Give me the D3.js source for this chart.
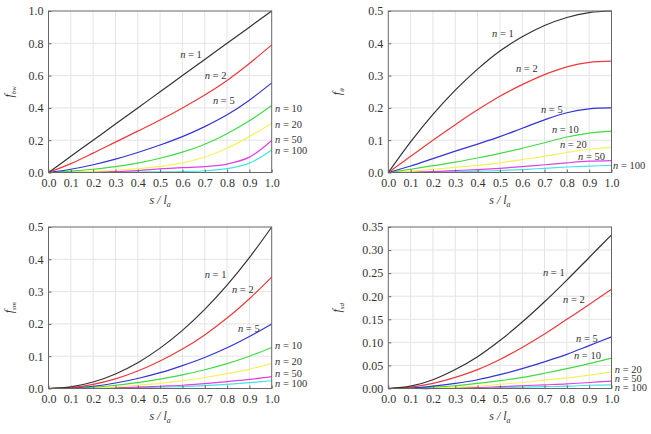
<!DOCTYPE html>
<html>
<head>
<meta charset="utf-8">
<script src="https://cdn.jsdelivr.net/npm/d3@7"></script>
<style>
  body { margin: 0; background: #fff; }
  svg text { font-family: "Liberation Serif", "Times New Roman", Times, serif; fill: #333; }
  .grid line { stroke: #e4e4e4; stroke-width: 1; }
  .frame { fill: none; stroke: #666; stroke-width: 1; }
  .curve { fill: none; stroke-width: 1.2; }
</style>
</head>
<body>
<script>
"use strict";

// shared x values (s / l_a)
const sValues = [0, 0.1, 0.2, 0.3, 0.4, 0.5, 0.6, 0.7, 0.8, 0.9, 1.0];
const nNames = ["1", "2", "5", "10", "20", "50", "100"];
const nColors = ["#333333", "#ec3a3a", "#3434d4", "#40dc40", "#f4f25c", "#e040e0", "#44e4e4"];

// f_bw, one row per n
const fBw = [
  [0, 0.1, 0.2, 0.3, 0.4, 0.5, 0.6, 0.7, 0.8, 0.9, 1.0],
  [0, 0.055, 0.12, 0.188, 0.256, 0.325, 0.40, 0.48, 0.57, 0.675, 0.79],
  [0, 0.02, 0.048, 0.083, 0.124, 0.17, 0.222, 0.284, 0.357, 0.448, 0.555],
  [0, 0.008, 0.02, 0.036, 0.058, 0.088, 0.126, 0.175, 0.24, 0.32, 0.415],
  [0, 0.002, 0.007, 0.014, 0.024, 0.038, 0.06, 0.096, 0.15, 0.222, 0.305],
  [0, 0.001, 0.003, 0.006, 0.012, 0.022, 0.03, 0.036, 0.052, 0.095, 0.198],
  [0, 0, 0.001, 0.002, 0.003, 0.004, 0.006, 0.011, 0.024, 0.058, 0.14]
];

// f_theta
const fTheta = [
  [0, 0.095, 0.18, 0.255, 0.32, 0.376, 0.42, 0.455, 0.48, 0.495, 0.5],
  [0, 0.05, 0.10, 0.148, 0.194, 0.236, 0.272, 0.303, 0.327, 0.341, 0.345],
  [0, 0.02, 0.043, 0.066, 0.088, 0.111, 0.137, 0.163, 0.185, 0.197, 0.20],
  [0, 0.01, 0.021, 0.032, 0.045, 0.059, 0.075, 0.092, 0.11, 0.122, 0.128],
  [0, 0.004, 0.01, 0.016, 0.022, 0.03, 0.04, 0.05, 0.062, 0.072, 0.078],
  [0, 0.001, 0.003, 0.006, 0.009, 0.013, 0.018, 0.024, 0.03, 0.035, 0.037],
  [0, 0, 0.001, 0.002, 0.004, 0.006, 0.009, 0.013, 0.017, 0.02, 0.022]
];

// f_sm
const fSm = [
  [0, 0.005, 0.02, 0.045, 0.08, 0.125, 0.18, 0.245, 0.32, 0.405, 0.5],
  [0, 0.003, 0.013, 0.03, 0.054, 0.085, 0.122, 0.166, 0.218, 0.278, 0.345],
  [0, 0.002, 0.007, 0.017, 0.031, 0.049, 0.071, 0.096, 0.126, 0.161, 0.2],
  [0, 0.001, 0.004, 0.01, 0.018, 0.029, 0.042, 0.058, 0.077, 0.1, 0.127],
  [0, 0, 0.002, 0.005, 0.01, 0.016, 0.024, 0.034, 0.046, 0.06, 0.078],
  [0, 0, 0.001, 0.002, 0.004, 0.007, 0.01, 0.015, 0.021, 0.028, 0.037],
  [0, 0, 0, 0.001, 0.002, 0.004, 0.006, 0.009, 0.013, 0.018, 0.024]
];

// f_sd
const fSd = [
  [0, 0.005, 0.019, 0.041, 0.069, 0.104, 0.144, 0.188, 0.235, 0.284, 0.333],
  [0, 0.003, 0.011, 0.024, 0.041, 0.063, 0.089, 0.118, 0.15, 0.182, 0.215],
  [0, 0.001, 0.005, 0.011, 0.019, 0.03, 0.043, 0.058, 0.074, 0.093, 0.112],
  [0, 0.001, 0.003, 0.006, 0.011, 0.017, 0.024, 0.033, 0.043, 0.054, 0.066],
  [0, 0, 0.001, 0.003, 0.005, 0.009, 0.013, 0.018, 0.023, 0.029, 0.036],
  [0, 0, 0, 0.001, 0.002, 0.004, 0.006, 0.008, 0.01, 0.013, 0.016],
  [0, 0, 0, 0.001, 0.001, 0.002, 0.003, 0.004, 0.005, 0.007, 0.008]
];

// tick labels
const xTicks = [0, 0.1, 0.2, 0.3, 0.4, 0.5, 0.6, 0.7, 0.8, 0.9, 1.0];
const yTicksBw = [0, 0.2, 0.4, 0.6, 0.8, 1.0];
const yTicksTheta = [0, 0.1, 0.2, 0.3, 0.4, 0.5];
const yTicksSm = [0, 0.1, 0.2, 0.3, 0.4, 0.5];
const yTicksSd = [0, 0.05, 0.1, 0.15, 0.2, 0.25, 0.3, 0.35];

// label anchors [s, value] for "n = ..."
const labelsBw = [[0.59, 0.734], [0.70, 0.604], [0.737, 0.45], [1.015, 0.40], [1.015, 0.301], [1.015, 0.208], [1.015, 0.14]];
const labelsTheta = [[0.465, 0.432], [0.572, 0.324], [0.684, 0.197], [0.733, 0.135], [0.769, 0.0857], [0.85, 0.0486], [1.007, 0.0207]];
const labelsSm = [[0.70, 0.354], [0.822, 0.307], [0.849, 0.187], [1.015, 0.134], [1.015, 0.0845], [1.015, 0.047], [1.015, 0.016]];
const labelsSd = [[0.693, 0.252], [0.783, 0.194], [0.841, 0.109], [0.832, 0.072], [1.015, 0.042], [1.015, 0.0224], [1.015, 0.003]];

const panels = [
  {left: 48.5, top: 11, titleX: 13, sub: "bw", data: fBw, ticks: yTicksBw, fmt: ".1f", labels: labelsBw},
  {left: 388.3, top: 11, titleX: 341, sub: "θ", data: fTheta, ticks: yTicksTheta, fmt: ".1f", labels: labelsTheta},
  {left: 48.5, top: 227, titleX: 13, sub: "sm", data: fSm, ticks: yTicksSm, fmt: ".1f", labels: labelsSm},
  {left: 388.3, top: 227, titleX: 341, sub: "sd", data: fSd, ticks: yTicksSd, fmt: ".2f", labels: labelsSd}
];

const W = 651, H = 434;
const pw = 223.2, ph = 161.5;
const serif = "'Liberation Serif', 'Times New Roman', Times, serif";

const svg = d3.select("body").append("svg")
  .attr("width", W)
  .attr("height", H)
  .attr("font-family", serif);

panels.forEach((p) =>
{
  let x = d3.scaleLinear().domain([0, 1]).range([0, pw]);
  let yMax = p.ticks[p.ticks.length - 1];
  let y = d3.scaleLinear().domain([0, yMax]).range([ph, 0]);
  let g = svg.append("g").attr("transform", "translate(" + p.left + "," + p.top + ")");

  // grid
  g.append("g")
   .attr("class", "grid")
   .selectAll("line")
   .data(xTicks.slice(1, -1))
   .enter().append("line")
   .attr("x1", (d) => x(d)).attr("x2", (d) => x(d))
   .attr("y1", 0).attr("y2", ph);
  g.append("g")
   .attr("class", "grid")
   .selectAll("line")
   .data(p.ticks.slice(1, -1))
   .enter().append("line")
   .attr("x1", 0).attr("x2", pw)
   .attr("y1", (d) => y(d)).attr("y2", (d) => y(d));

  // curves, n = 100 drawn first so n = 1 sits on top
  let line = d3.line()
    .x((d, i) => x(sValues[i]))
    .y((d) => y(d))
    .curve(d3.curveCatmullRom.alpha(0.5));

  for (let k = p.data.length - 1; k >= 0; k--)
  {
    g.append("path")
     .attr("class", "curve")
     .attr("stroke", nColors[k])
     .attr("d", line(p.data[k]));
  }

  // axes with inward ticks
  let xa = g.append("g")
    .attr("transform", "translate(0," + ph + ")")
    .call(d3.axisBottom(x).tickValues(xTicks).tickFormat(d3.format(".1f")).tickSizeInner(-3).tickSizeOuter(0).tickPadding(6));
  let ya = g.append("g")
    .call(d3.axisLeft(y).tickValues(p.ticks).tickFormat(d3.format(p.fmt)).tickSizeInner(-3).tickSizeOuter(0).tickPadding(5));
  [xa, ya].forEach((a) =>
  {
    a.attr("font-family", serif);
    a.select(".domain").remove();
    a.selectAll("line").attr("stroke", "#666");
    a.selectAll("text").attr("font-size", 12).attr("fill", "#333");
  });

  g.append("rect")
   .attr("class", "frame")
   .attr("width", pw)
   .attr("height", ph);

  // curve labels
  p.labels.forEach((pos, i) =>
  {
    let t = g.append("text")
      .attr("x", x(pos[0]))
      .attr("y", y(pos[1]))
      .attr("dy", "0.35em")
      .attr("font-size", 10.5);
    t.append("tspan").attr("font-style", "italic").text("n");
    t.append("tspan").text(" = " + nNames[i]);
  });

  // x title
  let xt = g.append("text")
    .attr("x", pw / 2)
    .attr("y", ph + 31)
    .attr("text-anchor", "middle")
    .attr("font-size", 12)
    .attr("font-style", "italic");
  xt.append("tspan").text("s / l");
  xt.append("tspan").attr("font-size", 8).attr("dy", 3).text("a");

  // y title
  let yt = g.append("text")
    .attr("transform", "translate(" + (p.titleX - p.left) + "," + (ph / 2) + ") rotate(-90)")
    .attr("text-anchor", "middle")
    .attr("font-size", 12)
    .attr("font-style", "italic");
  yt.append("tspan").text("f");
  yt.append("tspan").attr("font-size", 7).attr("dy", 3).text(p.sub);
});
</script>
</body>
</html>
